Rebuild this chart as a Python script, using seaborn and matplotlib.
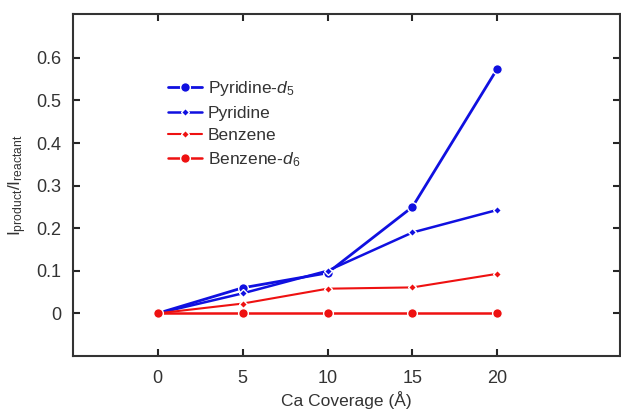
import matplotlib
matplotlib.use("Agg")
import matplotlib.pyplot as plt
import pandas as pd
import seaborn as sns

coverage = [0, 5, 10, 15, 20]
pyridine_d5 = [0.0, 0.060, 0.095, 0.250, 0.575]
pyridine = [0.0, 0.047, 0.100, 0.190, 0.243]
benzene = [0.0, 0.023, 0.058, 0.061, 0.093]
benzene_d6 = [0.0, 0.0, 0.0, 0.0, 0.0]

series = [
    ("Pyridine-$d_5$", pyridine_d5, "#1010e0", "o", 7, 2.0),
    ("Pyridine", pyridine, "#1010e0", "D", 4.5, 1.8),
    ("Benzene", benzene, "#ee1111", "D", 4.5, 1.5),
    ("Benzene-$d_6$", benzene_d6, "#ee1111", "o", 7, 1.8),
]

sns.set_style("ticks")
plt.rcParams["font.family"] = ["Liberation Sans", "DejaVu Sans"]
plt.rcParams["mathtext.fontset"] = "custom"
plt.rcParams["mathtext.rm"] = "Liberation Sans"
plt.rcParams["mathtext.it"] = "Liberation Sans:italic"

fig = plt.figure(figsize=(6.21, 4.12), dpi=100)
ax = fig.add_axes([0.117, 0.136, 0.881, 0.83])

for name, vals, color, marker, ms, lw in series:
    df = pd.DataFrame({"x": coverage, "y": vals})
    sns.lineplot(data=df, x="x", y="y", ax=ax, color=color, marker=marker,
                 markersize=ms, markeredgecolor="white", markeredgewidth=1.0,
                 linewidth=lw, label=name)

ax.set_xlim(-5, 27.2)
ax.set_ylim(-0.1, 0.703)
ax.set_xticks([0, 5, 10, 15, 20])
ax.set_yticks([0, 0.1, 0.2, 0.3, 0.4, 0.5, 0.6])
ax.set_yticklabels(["0", "0.1", "0.2", "0.3", "0.4", "0.5", "0.6"])

ax.tick_params(direction="in", length=5, width=1.5, top=True, right=True,
               labelsize=13, labelcolor="#333333", pad=8)
ax.tick_params(axis="x", pad=10)
for sp in ax.spines.values():
    sp.set_linewidth(1.5)
    sp.set_color("#333333")

ax.set_xlabel("Ca Coverage (Å)", fontsize=12.5, color="#333333", labelpad=3)
ax.set_ylabel(r"I$_{\mathrm{product}}$/I$_{\mathrm{reactant}}$", fontsize=12.5,
              color="#333333", labelpad=5)

ax.legend(loc="upper left", bbox_to_anchor=(0.145, 0.855), frameon=False,
          fontsize=12.5, handlelength=2.0, handletextpad=0.3, labelspacing=0.42,
          labelcolor="#333333")

fig.savefig("out.png", dpi=100)
